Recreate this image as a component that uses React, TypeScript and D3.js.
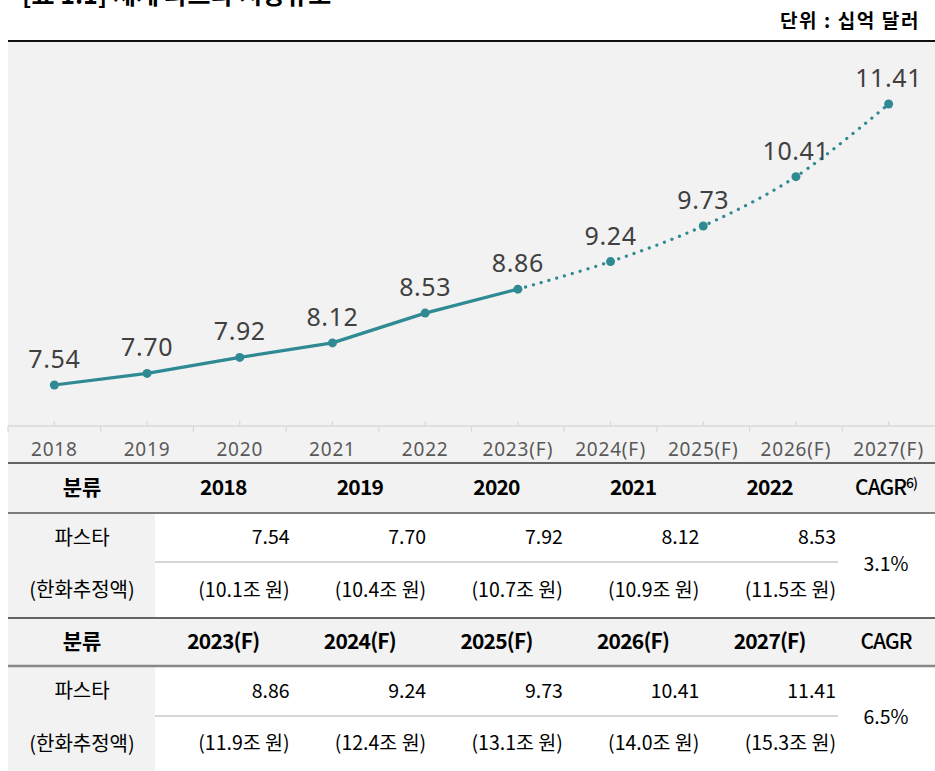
import * as d3 from "d3";

const years = ["2018", "2019", "2020", "2021", "2022", "2023(F)", "2024(F)", "2025(F)", "2026(F)", "2027(F)"];
const values = [7.54, 7.7, 7.92, 8.12, 8.53, 8.86, 9.24, 9.73, 10.41, 11.41];
const krw = ["10.1", "10.4", "10.7", "10.9", "11.5", "11.9", "12.4", "13.1", "14.0", "15.3"];
const cagr = ["3.1%", "6.5%"];
const forecastStart = 5;

const W = 935;
const H = 771;
const LEFT = 8;
const AXIS_Y = 426;
const TEAL = "#2f8a93";
const LATIN = "'Noto Sans', 'Noto Sans CJK KR', sans-serif";
const KR = "'Noto Sans CJK KR', 'Noto Sans', sans-serif";

// table rows: header, 파스타, 한화, header, 파스타, 한화
const ROWS = [463, 513, 562, 618, 666, 716, 771];
const COL0 = 155;
const COL_END = 838;

export default function App() {
  const x = d3.scaleBand<string>().domain(years).range([LEFT, W]);
  const y = d3.scaleLinear().domain([7, 12]).range([424.2, 61.2]);
  const cx = (i: number) => (x(years[i]) ?? 0) + x.bandwidth() / 2;

  const pts = values.map((v, i) => [cx(i), y(v)] as [number, number]);
  const solid = d3.line().curve(d3.curveLinear)(pts.slice(0, forecastStart + 1)) ?? "";
  const dotted = d3.line().curve(d3.curveCatmullRom.alpha(0.5))(pts.slice(forecastStart)) ?? "";

  const colX = d3.scaleLinear().domain([0, 5]).range([COL0, COL_END]);
  const colW = colX(1) - colX(0);

  const block = (b: number) => {
    const top = b * 3;
    const idx = d3.range(5).map((k) => b * 5 + k);
    const hy = (ROWS[top] + ROWS[top + 1]) / 2;
    const r1 = (ROWS[top + 1] + ROWS[top + 2]) / 2;
    const r2 = (ROWS[top + 2] + ROWS[top + 3]) / 2;
    return (
      <g key={b}>
        <rect x={LEFT} y={ROWS[top]} width={W - LEFT} height={ROWS[top + 1] - ROWS[top]} fill="#f2f2f2" />
        <rect x={LEFT} y={ROWS[top + 1]} width={COL0 - LEFT} height={ROWS[top + 3] - ROWS[top + 1]} fill="#f2f2f2" />
        <line x1={COL0} x2={COL_END} y1={ROWS[top + 2]} y2={ROWS[top + 2]} stroke="#c8c8c8" strokeWidth={1.5} />
        <line x1={LEFT} x2={W} y1={ROWS[top]} y2={ROWS[top]} stroke="#333" strokeWidth={1.5} />
        <line
          x1={LEFT}
          x2={W}
          y1={ROWS[top + 1]}
          y2={ROWS[top + 1]}
          stroke={b === 0 ? "#555" : "#888"}
          strokeWidth={b === 0 ? 1.5 : 2.5}
        />
        <text x={82} y={hy} dy="0.35em" textAnchor="middle" fontFamily={KR} fontWeight={700} fontSize={21}>
          분류
        </text>
        {idx.map((i, k) => (
          <text
            key={i}
            x={colX(k) + colW / 2}
            y={hy}
            dy="0.35em"
            textAnchor="middle"
            fontFamily={KR}
            fontWeight={700}
            fontSize={21}
            letterSpacing={-0.8}
          >
            {years[i]}
          </text>
        ))}
        <text x={886} y={hy} dy="0.35em" textAnchor="middle" fontFamily={KR} fontWeight={500} fontSize={21} letterSpacing={-1}>
          CAGR
          {b === 0 && (
            <tspan fontSize={14} dy="-0.5em">
              6)
            </tspan>
          )}
        </text>
        <text x={82} y={r1} dy="0.35em" textAnchor="middle" fontFamily={KR} fontSize={20}>
          파스타
        </text>
        <text x={82} y={r2} dy="0.35em" textAnchor="middle" fontFamily={KR} fontSize={20}>
          (한화추정액)
        </text>
        {idx.map((i, k) => (
          <g key={i} fontFamily={KR} fontSize={19.5} textAnchor="end">
            <text x={colX(k + 1) - 2} y={r1} dy="0.35em">
              {values[i].toFixed(2)}
            </text>
            <text x={colX(k + 1) - 2} y={r2} dy="0.35em">
              ({krw[i]}조 원)
            </text>
          </g>
        ))}
        <text x={886} y={(r1 + r2) / 2} dy="0.35em" textAnchor="middle" fontFamily={KR} fontSize={19.5}>
          {cagr[b]}
        </text>
      </g>
    );
  };

  return (
    <svg width={W} height={H} style={{ position: "absolute", left: 0, top: 0, background: "#fff" }}>
      <text x={22} y={4} fontFamily={KR} fontWeight={700} fontSize={25}>
        [표 1.1] 세계 파스타 시장규모
      </text>
      <text x={920} y={28} textAnchor="end" fontFamily={KR} fontWeight={700} fontSize={19} letterSpacing={1.6}>
        단위 : 십억 달러
      </text>
      <rect x={LEFT} y={42} width={W - LEFT} height={ROWS[0] - 42} fill="#f2f2f2" />
      <line x1={LEFT} x2={W} y1={41} y2={41} stroke="#111" strokeWidth={2} />

      {/* axis */}
      <line x1={LEFT} x2={W} y1={AXIS_Y} y2={AXIS_Y} stroke="#d9d9d9" strokeWidth={1.5} />
      {years.map((d, i) => (
        <g key={d}>
          <line x1={cx(i)} x2={cx(i)} y1={AXIS_Y - 5} y2={AXIS_Y} stroke="#d9d9d9" strokeWidth={1.2} />
          <line x1={x(d)} x2={x(d)} y1={AXIS_Y} y2={AXIS_Y + 6} stroke="#d9d9d9" strokeWidth={1.2} />
          <text x={cx(i)} y={456} textAnchor="middle" fontFamily={LATIN} fontSize={19} letterSpacing={0.8} fill="#595959">
            {d}
          </text>
        </g>
      ))}

      {/* line */}
      <path d={solid} fill="none" stroke={TEAL} strokeWidth={3.2} strokeLinejoin="round" />
      <path d={dotted} fill="none" stroke={TEAL} strokeWidth={3.2} strokeLinecap="round" strokeDasharray="0.1 8" />
      {pts.map(([px, py], i) => (
        <g key={i}>
          <circle cx={px} cy={py} r={4.5} fill={TEAL} />
          <text x={px} y={py - 17} textAnchor="middle" fontFamily={LATIN} fontSize={25} letterSpacing={0.6} fill="#404040">
            {values[i].toFixed(2)}
          </text>
        </g>
      ))}

      {block(0)}
      {block(1)}
    </svg>
  );
}
